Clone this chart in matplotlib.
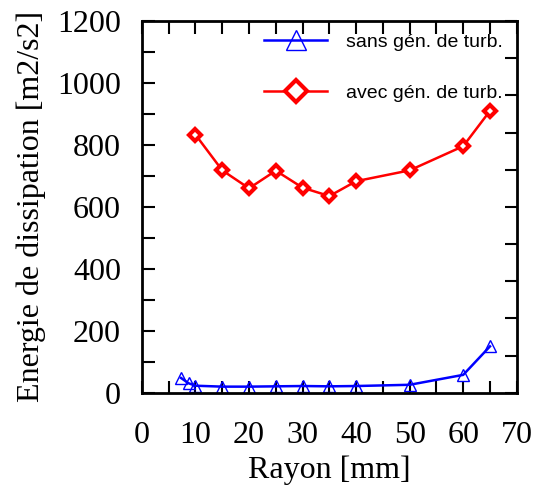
import numpy as np
import matplotlib
matplotlib.use('Agg')
import matplotlib.pyplot as plt

# data
r_sans = [7.3, 8.7, 10, 15, 20, 25, 30, 35, 40, 50, 60, 65]
e_sans = [48, 31, 23, 20, 20, 21, 22, 21, 22, 26, 58, 150]
r_avec = [10, 15, 20, 25, 30, 35, 40, 50, 60, 65]
e_avec = [833, 718, 660, 717, 662, 635, 683, 718, 796, 910]

serif = 'Liberation Serif'
sans = 'Liberation Sans'

fig = plt.figure(figsize=(5.48, 4.88), dpi=100)
ax = fig.add_axes([0.259, 0.195, 0.684, 0.762])

ax.plot(r_sans, e_sans, color='blue', lw=1.8, marker='^', ms=8,
        mfc='none', mec='blue', mew=1.0, label='sans gén. de turb.')
ax.plot(r_avec, e_avec, color='red', lw=1.8, marker='D', ms=6.5,
        mfc='white', mec='red', mew=3, label='avec gén. de turb.')

ax.set_xlim(0, 70)
ax.set_ylim(0, 1200)
ax.set_xticks(np.arange(0, 71, 10))
ax.set_xticks(np.arange(0, 71, 5), minor=True)
ax.set_yticks(np.arange(0, 1201, 200))
ax.set_yticks(np.arange(0, 1201, 100), minor=True)
ax.tick_params(which='both', direction='in', length=9, width=1.5,
               top=True, right=False, labelsize=23)
ax.tick_params(axis='x', which='both', pad=20)
ax.tick_params(axis='y', which='both', pad=15)
for lab in ax.get_xticklabels() + ax.get_yticklabels():
    lab.set_fontfamily(serif)
for s in ax.spines.values():
    s.set_linewidth(2)

# right side ticks on a different spacing (no labels)
ax2 = ax.twinx()
ax2.set_ylim(0, 10)
ax2.set_yticks(np.arange(0, 11, 1))
ax2.tick_params(direction='in', length=9, width=1.5, labelright=False)
for s in ax2.spines.values():
    s.set_visible(False)

ax.set_xlabel('Rayon [mm]', fontfamily=serif, fontsize=23, labelpad=4)
ax.set_ylabel('Energie de dissipation [m2/s2]', fontfamily=serif, fontsize=23, labelpad=8)

leg = ax.legend(loc='upper right', bbox_to_anchor=(1.01, 1.015), frameon=False,
                prop={'family': sans, 'size': 14}, markerscale=1.8,
                handlelength=3.2, labelspacing=1.75, handletextpad=1.0)

fig.savefig('out.png', dpi=100)
